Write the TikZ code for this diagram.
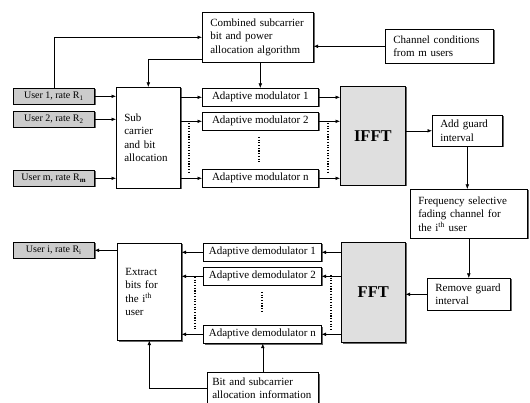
\documentclass[tikz,border=0pt]{standalone}
\usepackage{fontspec}
\setmainfont{Liberation Serif}
\usetikzlibrary{arrows.meta,shadows}
\begin{document}
\begin{tikzpicture}[x=1pt,y=-1pt,
  blk/.style={draw=black, line width=0.6pt, fill=white, inner sep=0pt, anchor=north west,
    font=\fontsize{11}{13.5}\selectfont,
    drop shadow={shadow xshift=1.2pt, shadow yshift=-1.2pt, fill=black, opacity=0.6}},
  usr/.style={blk, fill=gray!40, font=\fontsize{10}{12}\selectfont},
  fftbox/.style={blk, fill=gray!25, font=\bfseries\fontsize{16.5}{18}\selectfont},
  arr/.style={draw, line width=0.5pt, -{Latex[length=4.5pt,width=3.6pt]}},
  dotln/.style={line width=1.1pt, dash pattern=on 1.1pt off 1.6pt}]
\useasboundingbox (0,0) rectangle (530,403);

% top
\node[blk, minimum width=111pt, minimum height=50pt, text width=95pt, align=left] (comb) at (202,12) {Combined subcarrier\\bit and power\\allocation algorithm};
\node[blk, minimum width=108pt, minimum height=34pt, text width=92pt, align=left] (chan) at (385,29) {Channel conditions\\from m users};

% users
\node[usr, minimum width=81pt, minimum height=16pt] (u1) at (13,88) {User 1, rate R\textsubscript{1}};
\node[usr, minimum width=81pt, minimum height=16pt] (u2) at (13,111) {User 2, rate R\textsubscript{2}};
\node[usr, minimum width=81pt, minimum height=16pt] (um) at (13,170) {User m, rate R\textsubscript{\textbf{m}}};
\node[usr, minimum width=81pt, minimum height=16pt] (ui) at (13,242) {User i, rate R\textsubscript{i}};

% transmitter
\node[blk, minimum width=64pt, minimum height=101pt, text width=48pt, align=left] (sub) at (116,87) {Sub\\carrier\\and bit\\allocation};
\node[blk, minimum width=116pt, minimum height=18pt] (m1) at (202,88) {Adaptive modulator 1};
\node[blk, minimum width=116pt, minimum height=18pt] (m2) at (202,112) {Adaptive modulator 2};
\node[blk, minimum width=116pt, minimum height=18pt] (mn) at (202,169) {Adaptive modulator n};
\node[fftbox, minimum width=65pt, minimum height=99pt] (ifft) at (340,86) {IFFT};
\node[blk, minimum width=70pt, minimum height=31pt, text width=54pt, align=left] (addg) at (432,115) {Add guard\\interval};
\node[blk, minimum width=117pt, minimum height=49pt, text width=101pt, align=left] (freq) at (410,189) {Frequency selective\\fading channel for\\the i\textsuperscript{th} user};

% receiver
\node[blk, minimum width=83pt, minimum height=32pt, text width=67pt, align=left] (rem) at (427,278) {Remove guard\\interval};
\node[fftbox, minimum width=64pt, minimum height=100pt] (fft) at (341,242) {FFT};
\node[blk, minimum width=118pt, minimum height=18pt] (d1) at (203,243) {Adaptive demodulator 1};
\node[blk, minimum width=118pt, minimum height=18pt] (d2) at (203,267) {Adaptive demodulator 2};
\node[blk, minimum width=118pt, minimum height=18pt] (dn) at (203,325) {Adaptive demodulator n};
\node[blk, minimum width=64pt, minimum height=97pt, text width=48pt, align=left] (ext) at (117,243) {Extract\\bits for\\the i\textsuperscript{th}\\user};
\node[blk, minimum width=111pt, minimum height=32pt, text width=101pt, align=left] (bit) at (207,372) {Bit and subcarrier\\allocation information};

% connectors top
\draw[arr] (chan.west) -- (chan.west -| comb.east);
\draw[arr] (u1.north) |- (comb.west);
\coordinate (cl) at (202,59);
\draw[arr] (cl) -| (sub.north);
\draw[arr] (comb.south -| m1.north) -- (m1.north);

\foreach \u in {u1,u2,um} \draw[arr] (\u.east) -- (\u.east -| sub.west);
\foreach \m in {m1,m2,mn} {
  \draw[arr] (\m.west -| sub.east) -- (\m.west);
  \draw[arr] (\m.east) -- (\m.east -| ifft.west);
}
\draw[arr] (addg.west -| ifft.east) -- (addg.west);
\draw[arr] (addg.south) -- (addg.south |- freq.north);
\draw[arr] (rem.north |- freq.south) -- (rem.north);
\draw[arr] (rem.west) -- (rem.west -| fft.east);
\foreach \d in {d1,d2,dn} {
  \draw[arr] (\d.east -| fft.west) -- (\d.east);
  \draw[arr] (\d.west) -- (\d.west -| ext.east);
}
\draw[arr] (ui.east -| ext.west) -- (ui.east);
\draw[arr] (bit.west) -| (ext.south);
\draw[arr] (bit.north) -- (bit.north |- dn.south);

% dotted continuation marks
\draw[dotln] (189,123) -- (189,172);
\draw[dotln] (259,137) -- (259,162);
\draw[dotln] (328,123) -- (328,172);
\draw[dotln] (195,277) -- (195,330);
\draw[dotln] (262,292) -- (262,313);
\draw[dotln] (331,275) -- (331,330);
\end{tikzpicture}
\end{document}
